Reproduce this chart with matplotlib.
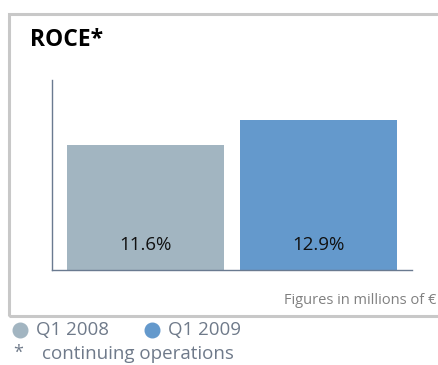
import matplotlib.pyplot as plt
from matplotlib.patches import Rectangle

periods = ["Q1 2008", "Q1 2009"]
roce = [11.6, 12.9]
colors = ["#a2b5c1", "#6499cc"]

W, H = 438, 365
fig = plt.figure(figsize=(W / 100, H / 100), dpi=100)
plt.rcParams['font.family'] = ['Open Sans', 'DejaVu Sans']

def fx(px):
    return px / W

def fy(py):
    return 1 - py / H

# frame
fig.patches.append(Rectangle((fx(9), fy(316)), fx(440) - fx(9), fy(14) - fy(316),
                             transform=fig.transFigure, fill=False,
                             edgecolor="#c8c8c8", linewidth=2.2, clip_on=False))

ax = fig.add_axes([fx(52), fy(270), fx(412) - fx(52), fy(80) - fy(270)])
ax.bar([0, 1], roce, width=0.9075, color=colors)
ax.set_xlim(-0.54, 1.54)
ax.set_ylim(5, 15)
for s in ["top", "right"]:
    ax.spines[s].set_visible(False)
for s in ["left", "bottom"]:
    ax.spines[s].set_color("#6a7a90")
    ax.spines[s].set_linewidth(1)
ax.set_xticks([])
ax.set_yticks([])
for i, v in enumerate(roce):
    ax.text(i, 6.3, f"{v:.1f}%", ha="center", va="center", fontsize=13.5, color="#111111")

fig.text(fx(30), fy(40), "ROCE*", fontsize=16.5, fontweight="bold", va="center", ha="left")
fig.text(fx(436), fy(300), "Figures in millions of €", fontsize=10.5, color="#808080",
         ha="right", va="center")

# legend
for i, (lab, c) in enumerate(zip(periods, colors)):
    x0 = [20, 152][i]
    fig.add_artist(plt.Line2D([fx(x0)], [fy(330)], marker="o", markersize=10.5,
                              color=c, linestyle="none"))
    fig.text(fx(x0 + 16), fy(330), lab, fontsize=13.5, color="#6f7a8a", va="center", ha="left")
fig.text(fx(13), fy(353), "*", fontsize=13, color="#6f7a8a", va="center", ha="left")
fig.text(fx(42), fy(354), "continuing operations", fontsize=13.5, color="#6f7a8a",
         va="center", ha="left")

fig.savefig("out.png", dpi=100)
